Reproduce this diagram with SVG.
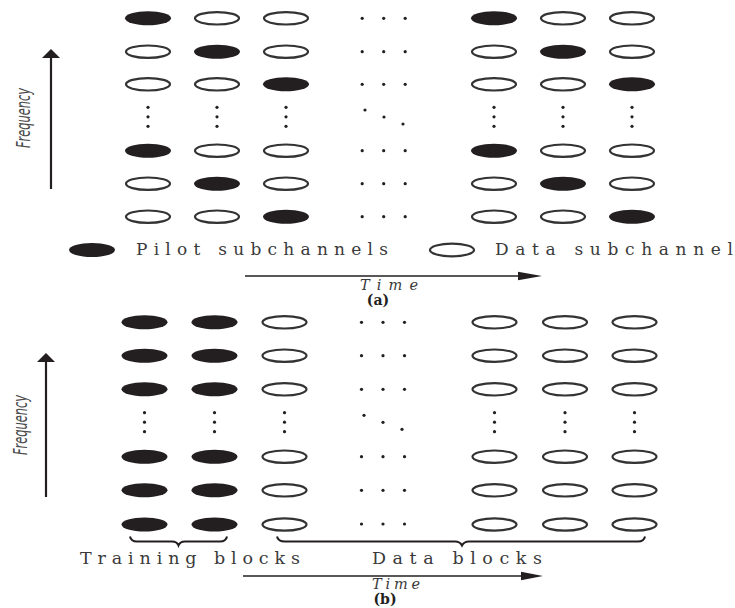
<svg xmlns="http://www.w3.org/2000/svg" xmlns:xlink="http://www.w3.org/1999/xlink" width="735" height="608" viewBox="0 0 735 608">
<style>
.pilot{fill:#231f20;stroke:none}
.data{fill:#fff;stroke:#333;stroke-width:2.2}
.dot{fill:#231f20}
.ln{stroke:#231f20;fill:none}
.head{fill:#231f20}
.lbl{font-family:"DejaVu Serif","Liberation Serif",serif;fill:#3a3a3a}
.freq{font-family:"DejaVu Sans Condensed","DejaVu Sans","Liberation Sans",sans-serif;font-style:italic;font-size:20px;fill:#4a4a4a}
.it{font-family:"DejaVu Serif","Liberation Serif",serif;font-style:italic;font-size:14.5px;fill:#3a3a3a}
.bd{font-family:"DejaVu Serif","Liberation Serif",serif;font-weight:bold;font-size:14px;fill:#231f20}
</style>
<defs>
<ellipse id="P" rx="23" ry="7" class="pilot"/>
<ellipse id="D" rx="22" ry="6.2" class="data"/>
<g id="vd"><circle cy="-9.5" r="1.6" class="dot"/><circle cy="0" r="1.6" class="dot"/><circle cy="9.5" r="1.6" class="dot"/></g>
<g id="hd"><circle cx="-21.5" r="1.6" class="dot"/><circle cx="0" r="1.6" class="dot"/><circle cx="21.5" r="1.6" class="dot"/></g>
<g id="dd"><circle cx="-19" cy="-7" r="1.6" class="dot"/><circle cx="0" cy="0" r="1.6" class="dot"/><circle cx="19" cy="7" r="1.6" class="dot"/></g>
</defs>

<!-- Panel (a) -->
<g id="panel-a">
<g id="a-c1"><use xlink:href="#P" x="148" y="18.3"/><use xlink:href="#D" x="148" y="51.7"/><use xlink:href="#D" x="148" y="84.3"/><use xlink:href="#vd" x="148" y="116.8"/><use xlink:href="#P" x="148" y="150.7"/><use xlink:href="#D" x="148" y="183.7"/><use xlink:href="#D" x="148" y="216.7"/></g>
<g id="a-c2"><use xlink:href="#D" x="217" y="18.3"/><use xlink:href="#P" x="217" y="51.7"/><use xlink:href="#D" x="217" y="84.3"/><use xlink:href="#vd" x="217" y="116.8"/><use xlink:href="#D" x="217" y="150.7"/><use xlink:href="#P" x="217" y="183.7"/><use xlink:href="#D" x="217" y="216.7"/></g>
<g id="a-c3"><use xlink:href="#D" x="286" y="18.3"/><use xlink:href="#D" x="286" y="51.7"/><use xlink:href="#P" x="286" y="84.3"/><use xlink:href="#vd" x="286" y="116.8"/><use xlink:href="#D" x="286" y="150.7"/><use xlink:href="#D" x="286" y="183.7"/><use xlink:href="#P" x="286" y="216.7"/></g>
<g id="a-mid"><use xlink:href="#hd" x="383.7" y="18.3"/><use xlink:href="#hd" x="383.7" y="51.7"/><use xlink:href="#hd" x="383.7" y="84.3"/><use xlink:href="#dd" x="384" y="117"/><use xlink:href="#hd" x="383.7" y="150.7"/><use xlink:href="#hd" x="383.7" y="183.7"/><use xlink:href="#hd" x="383.7" y="216.7"/></g>
<g id="a-c4"><use xlink:href="#P" x="494" y="18.3"/><use xlink:href="#D" x="494" y="51.7"/><use xlink:href="#D" x="494" y="84.3"/><use xlink:href="#vd" x="494" y="116.8"/><use xlink:href="#P" x="494" y="150.7"/><use xlink:href="#D" x="494" y="183.7"/><use xlink:href="#D" x="494" y="216.7"/></g>
<g id="a-c5"><use xlink:href="#D" x="563" y="18.3"/><use xlink:href="#P" x="563" y="51.7"/><use xlink:href="#D" x="563" y="84.3"/><use xlink:href="#vd" x="563" y="116.8"/><use xlink:href="#D" x="563" y="150.7"/><use xlink:href="#P" x="563" y="183.7"/><use xlink:href="#D" x="563" y="216.7"/></g>
<g id="a-c6"><use xlink:href="#D" x="632" y="18.3"/><use xlink:href="#D" x="632" y="51.7"/><use xlink:href="#P" x="632" y="84.3"/><use xlink:href="#vd" x="632" y="116.8"/><use xlink:href="#D" x="632" y="150.7"/><use xlink:href="#D" x="632" y="183.7"/><use xlink:href="#P" x="632" y="216.7"/></g>
<g id="a-freq"><line x1="51" y1="189" x2="51" y2="56" class="ln" stroke-width="2.2"/><polygon points="42,58 51,49 60,58" class="head"/><text class="freq" transform="translate(30,118) rotate(-90)" text-anchor="middle" textLength="60" lengthAdjust="spacingAndGlyphs">Frequency</text></g>
<g id="legend-pilot"><ellipse cx="92" cy="250" rx="23" ry="7" class="pilot"/><text class="lbl" x="136" y="255" font-size="17" textLength="252" lengthAdjust="spacing">Pilot subchannels</text></g>
<g id="legend-data"><ellipse cx="452" cy="250" rx="22" ry="6.3" class="data"/><text class="lbl" x="495" y="255" font-size="17" textLength="238" lengthAdjust="spacing">Data subchannel</text></g>
<g id="a-time"><line x1="245" y1="276" x2="522" y2="276" class="ln" stroke-width="1.6"/><polygon points="518,271.8 542,276 518,280.2" class="head"/><text class="it" x="389" y="290" text-anchor="middle" textLength="58" lengthAdjust="spacing">Time</text><text class="bd" x="378" y="305" text-anchor="middle">(a)</text></g>
</g>

<!-- Panel (b) -->
<g id="panel-b">
<g id="b-c1"><use xlink:href="#P" x="144.5" y="322.3"/><use xlink:href="#P" x="144.5" y="355.7"/><use xlink:href="#P" x="144.5" y="389.3"/><use xlink:href="#vd" x="144.5" y="422.2"/><use xlink:href="#P" x="144.5" y="456.7"/><use xlink:href="#P" x="144.5" y="490.3"/><use xlink:href="#P" x="144.5" y="524.5"/></g>
<g id="b-c2"><use xlink:href="#P" x="214.5" y="322.3"/><use xlink:href="#P" x="214.5" y="355.7"/><use xlink:href="#P" x="214.5" y="389.3"/><use xlink:href="#vd" x="214.5" y="422.2"/><use xlink:href="#P" x="214.5" y="456.7"/><use xlink:href="#P" x="214.5" y="490.3"/><use xlink:href="#P" x="214.5" y="524.5"/></g>
<g id="b-c3"><use xlink:href="#D" x="284.5" y="322.3"/><use xlink:href="#D" x="284.5" y="355.7"/><use xlink:href="#D" x="284.5" y="389.3"/><use xlink:href="#vd" x="284.5" y="422.2"/><use xlink:href="#D" x="284.5" y="456.7"/><use xlink:href="#D" x="284.5" y="490.3"/><use xlink:href="#D" x="284.5" y="524.5"/></g>
<g id="b-mid"><use xlink:href="#hd" x="383" y="322.3"/><use xlink:href="#hd" x="383" y="355.7"/><use xlink:href="#hd" x="383" y="389.3"/><use xlink:href="#dd" x="383" y="422.3"/><use xlink:href="#hd" x="383" y="456.7"/><use xlink:href="#hd" x="383" y="490.3"/><use xlink:href="#hd" x="383" y="524"/></g>
<g id="b-c4"><use xlink:href="#D" x="494.5" y="322.3"/><use xlink:href="#D" x="494.5" y="355.7"/><use xlink:href="#D" x="494.5" y="389.3"/><use xlink:href="#vd" x="494.5" y="422.2"/><use xlink:href="#D" x="494.5" y="456.7"/><use xlink:href="#D" x="494.5" y="490.3"/><use xlink:href="#D" x="494.5" y="524.5"/></g>
<g id="b-c5"><use xlink:href="#D" x="565" y="322.3"/><use xlink:href="#D" x="565" y="355.7"/><use xlink:href="#D" x="565" y="389.3"/><use xlink:href="#vd" x="565" y="422.2"/><use xlink:href="#D" x="565" y="456.7"/><use xlink:href="#D" x="565" y="490.3"/><use xlink:href="#D" x="565" y="524.5"/></g>
<g id="b-c6"><use xlink:href="#D" x="634.5" y="322.3"/><use xlink:href="#D" x="634.5" y="355.7"/><use xlink:href="#D" x="634.5" y="389.3"/><use xlink:href="#vd" x="634.5" y="422.2"/><use xlink:href="#D" x="634.5" y="456.7"/><use xlink:href="#D" x="634.5" y="490.3"/><use xlink:href="#D" x="634.5" y="524.5"/></g>
<g id="b-freq"><line x1="46" y1="497" x2="46" y2="360" class="ln" stroke-width="2.2"/><polygon points="37,362 46,353 55,362" class="head"/><text class="freq" transform="translate(27,425) rotate(-90)" text-anchor="middle" textLength="60" lengthAdjust="spacingAndGlyphs">Frequency</text></g>
<g id="training-blocks"><path class="ln" stroke-width="2" d="M130,536.5 Q131,541.5 137,541.5 L172,541.5 Q177,541.5 178.5,545.5 Q180,541.5 185,541.5 L220,541.5 Q226,541.5 227,536.5"/><text class="lbl" x="80" y="564" font-size="17.5" textLength="220" lengthAdjust="spacing">Training blocks</text></g>
<g id="data-blocks"><path class="ln" stroke-width="2" d="M277,536.5 Q278,541.5 285,541.5 L455,541.5 Q460,541.5 462,545.5 Q464,541.5 469,541.5 L638,541.5 Q644,541.5 645,536.5"/><text class="lbl" x="372" y="564" font-size="17.5" textLength="170" lengthAdjust="spacing">Data blocks</text></g>
<g id="b-time"><line x1="243" y1="576" x2="524" y2="576" class="ln" stroke-width="1.6"/><polygon points="521,571.8 543,576 521,580.2" class="head"/><text class="it" x="396" y="589" text-anchor="middle" textLength="48" lengthAdjust="spacing">Time</text><text class="bd" x="385" y="604" text-anchor="middle">(b)</text></g>
</g>
</svg>
